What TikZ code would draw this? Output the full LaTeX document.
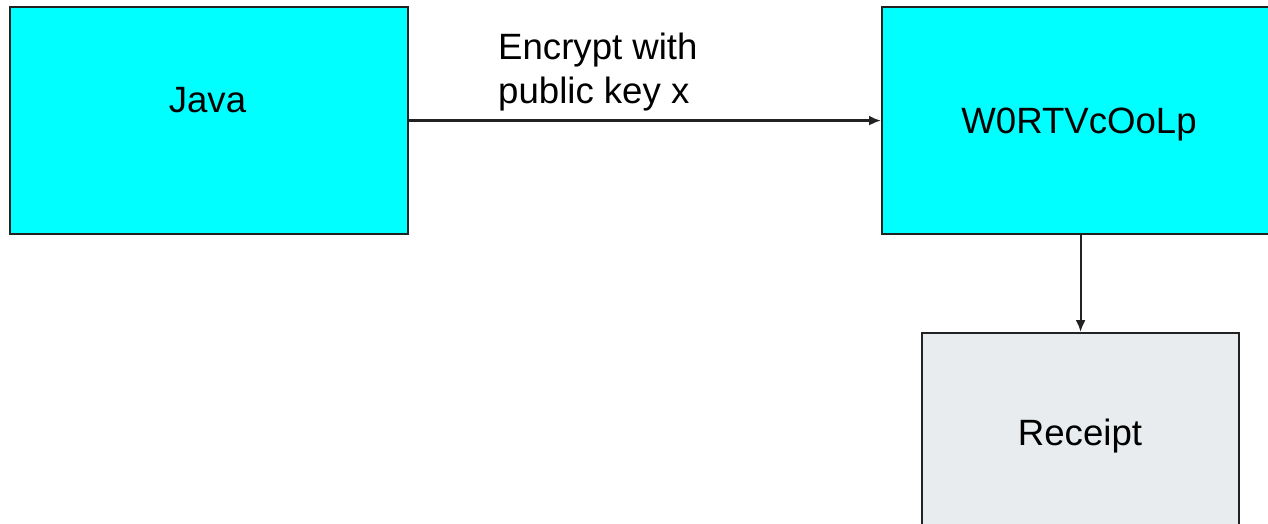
\documentclass[tikz,border=0pt]{standalone}
\usepackage{fontspec}
\setmainfont{Liberation Sans}
\usetikzlibrary{arrows.meta}
\definecolor{boxcyan}{HTML}{00FFFF}
\definecolor{boxgrey}{HTML}{E8ECEE}
\definecolor{edge}{HTML}{222222}
\begin{document}
\begin{tikzpicture}[x=1pt,y=-1pt,
  box/.style={draw=edge,line width=2.2pt,inner sep=0pt,anchor=north west},
  lbl/.style={inner sep=0pt,anchor=base,font=\fontsize{36.6}{44}\selectfont},
  conn/.style={draw=edge,line width=2.2pt,-{Latex[length=12pt,width=10pt]}}]
\useasboundingbox (0,0) rectangle (1268,524);
\begin{scope}
\clip (0,0) rectangle (1268,524);
\node[box,fill=boxcyan,minimum width=398.5pt,minimum height=227pt] (java) at (8.5,6) {};
\node[box,fill=boxcyan,minimum width=394pt,minimum height=227pt] (w) at (881,6) {};
\node[box,fill=boxgrey,minimum width=317pt,minimum height=200pt] (r) at (921,332) {};
\end{scope}
\node[lbl] (tjava) at (207.5,113) {Java};
\node[lbl] (tw) at (1079,134) {W0RTVcOoLp};
\node[lbl] (tr) at (1080,445) {Receipt};
\node[lbl,anchor=base west,align=left] (tlab) at (498,104) {Encrypt with\\public key x};
\draw[conn] (java.east) -- (w.west);
\draw[conn] (w.south -| r.north) -- (r.north);
\end{tikzpicture}
\end{document}
